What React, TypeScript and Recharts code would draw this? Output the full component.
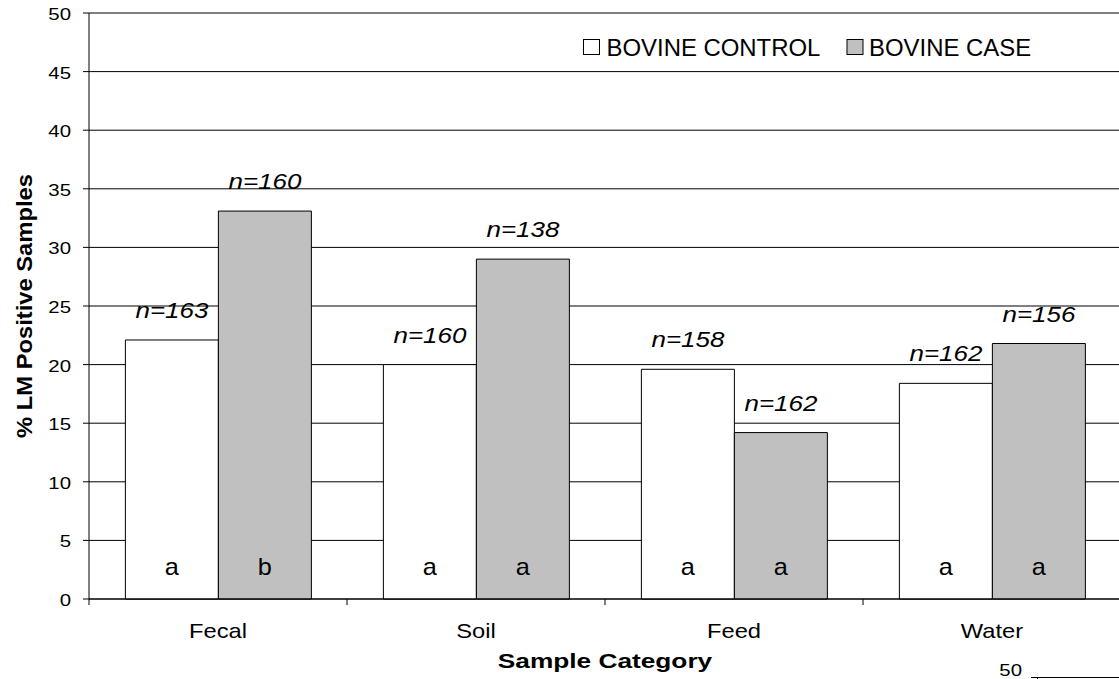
import {
  BarChart,
  Bar,
  XAxis,
  YAxis,
  CartesianGrid,
  Legend,
  LabelList,
  Label,
} from "recharts";

// chart values
const categories = ["Fecal", "Soil", "Feed", "Water"];
const controlPct = [22.1, 20.0, 19.6, 18.4];
const casePct = [33.1, 29.0, 14.2, 21.8];
const controlN = [163, 160, 158, 162];
const caseN = [160, 138, 162, 156];
const controlSig = ["a", "a", "a", "a"];
const caseSig = ["b", "a", "a", "a"];
const yTicks = [0, 5, 10, 15, 20, 25, 30, 35, 40, 45, 50];

const data = categories.map((cat, i) => ({
  cat,
  control: controlPct[i],
  case: casePct[i],
  nControl: controlN[i],
  nCase: caseN[i],
  sigControl: controlSig[i],
  sigCase: caseSig[i],
}));

const FONT = '"Liberation Sans", Arial, sans-serif';

// text that is a little wider than the font (the original is stretched sideways)
function SText({
  x,
  y,
  size,
  sx = 1,
  anchor = "middle",
  weight = "normal",
  italic = false,
  rotate = 0,
  children,
}: any) {
  return (
    <text
      transform={`translate(${x},${y})${rotate ? ` rotate(${rotate})` : ""} scale(${sx},1)`}
      textAnchor={anchor}
      fontSize={size}
      fontFamily={FONT}
      fontWeight={weight}
      fontStyle={italic ? "italic" : "normal"}
      fill="#000"
    >
      {children}
    </text>
  );
}

const YTick = ({ x, y, payload }: any) => (
  <SText x={x} y={y + 7} size={17} sx={1.2} anchor="end">
    {payload.value}
  </SText>
);

// category label + tick marks on the category borders
const XTick = ({ x, y, payload, index }: any) => {
  const off = payload.offset ?? 0;
  return (
    <g>
      <line x1={x - off} x2={x - off} y1={y} y2={y + 6} stroke="#000" />
      {index === categories.length - 1 && (
        <line x1={x + off} x2={x + off} y1={y} y2={y + 6} stroke="#000" />
      )}
      <SText x={x} y={y + 39} size={21} sx={1.13}>
        {payload.value}
      </SText>
    </g>
  );
};

const XTitle = ({ viewBox }: any) => (
  <SText
    x={viewBox.x + viewBox.width / 2}
    y={viewBox.y + 69}
    size={21}
    sx={1.25}
    weight="bold"
  >
    Sample Category
  </SText>
);

const YTitle = ({ viewBox }: any) => (
  <SText
    x={32}
    y={viewBox.y + viewBox.height / 2}
    size={22}
    sx={1.08}
    weight="bold"
    rotate={-90}
  >
    % LM Positive Samples
  </SText>
);

const renderN = (p: any) => {
  const x = Number(p.x);
  const w = Number(p.width);
  const y = Number(p.y);
  return (
    <SText x={x + w / 2} y={y - 22} size={22} sx={1.18} italic>
      {`n=${p.value}`}
    </SText>
  );
};

const renderSig = (p: any) => {
  const x = Number(p.x);
  const w = Number(p.width);
  const y = Number(p.y);
  const h = Number(p.height);
  return (
    <SText x={x + w / 2} y={y + h - 24} size={23} sx={1.1}>
      {p.value}
    </SText>
  );
};

// legend drawn as a small svg: square + label for each series
const legendSpots: Record<string, { box: number; text: number }> = {
  "BOVINE CONTROL": { box: 0.5, text: 23.5 },
  "BOVINE CASE": { box: 264, text: 286 },
};
const renderLegend = ({ payload }: any) => (
  <svg width={480} height={46} style={{ display: "block", overflow: "visible" }}>
    {(payload || []).map((entry: any) => {
      const spot = legendSpots[entry.value];
      if (!spot) return null;
      return (
        <g key={entry.value}>
          <rect
            x={spot.box}
            y={11.5}
            width={16}
            height={15}
            fill={entry.color}
            stroke="#000"
          />
          <SText x={spot.text} y={28} size={23} sx={1.04} anchor="start">
            {entry.value}
          </SText>
        </g>
      );
    })}
  </svg>
);

export default function App() {
  return (
    <div
      style={{
        position: "relative",
        width: 1119,
        height: 679,
        overflow: "hidden",
        background: "#fff",
      }}
    >
      <style>{"body{margin:0}"}</style>
      <BarChart
        width={1125}
        height={679}
        data={data}
        margin={{ top: 13, right: 4, bottom: 0, left: 0 }}
        barCategoryGap="14.1%"
        barGap={0}
      >
        <CartesianGrid vertical={false} stroke="#000" />
        <XAxis
          dataKey="cat"
          height={80}
          interval={0}
          tickSize={0}
          tickMargin={0}
          tickLine={false}
          axisLine={{ stroke: "#000" }}
          tick={<XTick />}
        >
          <Label content={<XTitle />} />
        </XAxis>
        <YAxis
          domain={[0, 50]}
          ticks={yTicks}
          interval={0}
          width={89}
          tickSize={6}
          tickMargin={12}
          tickLine={{ stroke: "#000" }}
          axisLine={{ stroke: "#000" }}
          tick={<YTick />}
        >
          <Label content={<YTitle />} />
        </YAxis>
        <Legend
          layout="horizontal"
          verticalAlign="middle"
          align="center"
          content={renderLegend}
          wrapperStyle={{ top: 28, left: 583, width: 480, height: 46 }}
        />
        <Bar
          dataKey="control"
          name="BOVINE CONTROL"
          fill="#ffffff"
          stroke="#000"
          strokeWidth={1}
          isAnimationActive={false}
        >
          <LabelList dataKey="nControl" content={renderN} />
          <LabelList dataKey="sigControl" content={renderSig} />
        </Bar>
        <Bar
          dataKey="case"
          name="BOVINE CASE"
          fill="#c0c0c0"
          stroke="#000"
          strokeWidth={1}
          isAnimationActive={false}
        >
          <LabelList dataKey="nCase" content={renderN} />
          <LabelList dataKey="sigCase" content={renderSig} />
        </Bar>
      </BarChart>
      {/* edge of the next figure, cut off in the original */}
      <svg
        width={130}
        height={30}
        style={{ position: "absolute", left: 989, top: 649 }}
      >
        <SText x={33} y={27} size={17} sx={1.2} anchor="end">
          50
        </SText>
        <line x1={42} x2={130} y1={28.5} y2={28.5} stroke="#000" />
        <line x1={48.5} x2={48.5} y1={28} y2={31} stroke="#000" />
      </svg>
    </div>
  );
}
